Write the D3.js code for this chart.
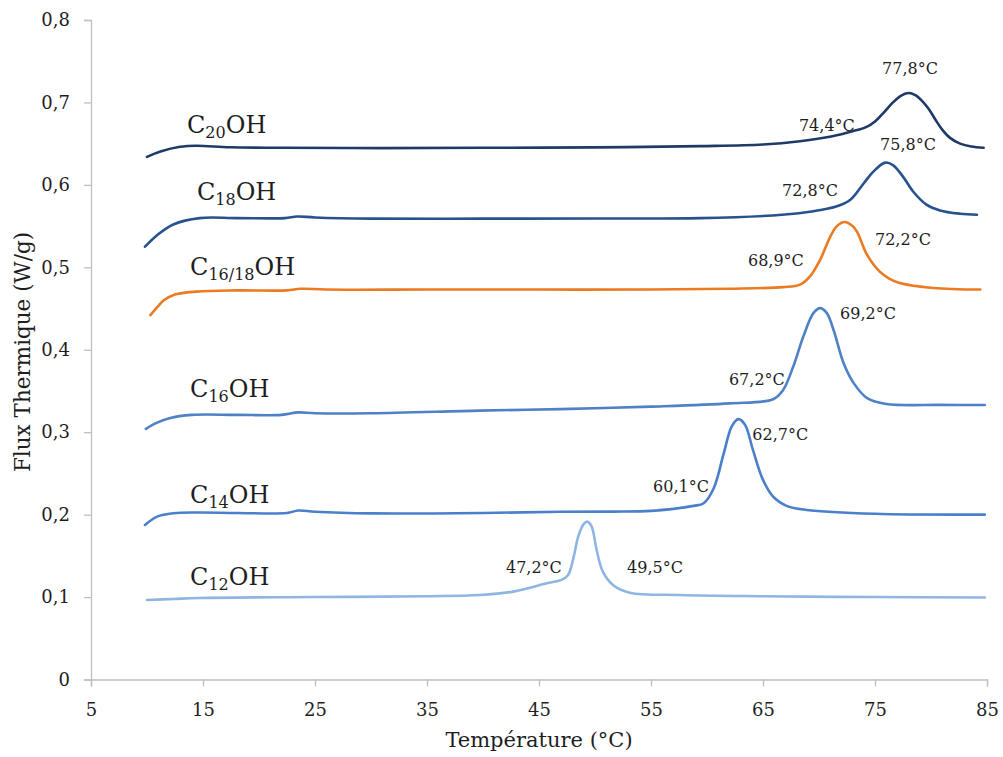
<!DOCTYPE html>
<html>
<head>
<meta charset="utf-8">
<script src="https://cdn.jsdelivr.net/npm/d3@7"></script>
<style>
  html, body { margin: 0; padding: 0; background: #ffffff; }
  svg { display: block; }
</style>
</head>
<body>
<svg id="chart" width="1003" height="757"></svg>
<script>
// ---- Data ----
const xTicks = [5, 15, 25, 35, 45, 55, 65, 75, 85];
const yTicks = [0, 0.1, 0.2, 0.3, 0.4, 0.5, 0.6, 0.7, 0.8];

const c20 = [[10.0,0.634],[11.2,0.6405],[12.95,0.6462],[14.4,0.6475],[17.4,0.6456],[22,0.645],[30.8,0.6446],[40,0.645],[50,0.6455],[59.4,0.647],[65,0.649],[68.3,0.653],[71.2,0.659],[73.0,0.665],[74.2,0.670],[75.0,0.677],[75.8,0.688],[76.6,0.700],[77.3,0.708],[77.97,0.7115],[78.6,0.709],[79.2,0.702],[79.8,0.692],[80.4,0.679],[81.0,0.667],[81.7,0.657],[82.6,0.650],[83.6,0.6465],[84.7,0.645]];
const c18 = [[9.82,0.525],[10.9,0.539],[12.35,0.552],[14.7,0.5597],[18,0.5597],[22.3,0.5597],[23.4,0.5617],[25,0.5605],[30,0.559],[40,0.559],[50,0.5592],[59.4,0.5597],[66.7,0.5637],[69.5,0.568],[71.6,0.574],[72.8,0.582],[74.0,0.602],[74.85,0.616],[75.9,0.627],[76.6,0.624],[77.5,0.610],[78.4,0.592],[79.6,0.576],[80.8,0.569],[82.6,0.565],[84.1,0.5637]];
const c1618 = [[10.3,0.442],[11.0,0.453],[11.5,0.460],[12.5,0.467],[14.4,0.4705],[18,0.472],[22.5,0.472],[23.7,0.474],[26,0.473],[35,0.473],[45,0.473],[55,0.473],[62,0.474],[66.8,0.476],[68.3,0.479],[69.2,0.489],[70.1,0.509],[71.0,0.537],[71.6,0.550],[72.3,0.555],[73.0,0.550],[73.4,0.543],[74.3,0.515],[75.4,0.495],[76.3,0.486],[77.2,0.481],[80.2,0.475],[84.4,0.473]];
const c16 = [[9.9,0.304],[10.8,0.311],[12,0.317],[14,0.321],[18,0.321],[22,0.321],[23.5,0.324],[25,0.323],[30,0.323],[39.7,0.3262],[46.9,0.328],[55,0.331],[62,0.335],[65.9,0.340],[66.8,0.3513],[67.7,0.3796],[68.6,0.416],[69.5,0.4444],[70.1,0.4505],[70.7,0.4444],[71.3,0.424],[72.2,0.3837],[73.1,0.3595],[74.3,0.3413],[76.0,0.3343],[80.8,0.3331],[84.8,0.333]];
const c14 = [[9.82,0.1875],[10.9,0.1976],[12.35,0.2017],[14.7,0.2025],[18,0.202],[22.5,0.202],[23.5,0.205],[25,0.2035],[30,0.2015],[40,0.202],[46.9,0.2035],[51.6,0.2037],[55,0.2045],[58.8,0.2106],[59.7,0.2138],[60.6,0.232],[61.5,0.2745],[62.2,0.3068],[62.8,0.3158],[63.4,0.3089],[64.1,0.2785],[65.0,0.2421],[65.9,0.2218],[67.1,0.2106],[68.9,0.2057],[75,0.201],[84.8,0.2]];
const c12 = [[10.0,0.0965],[12.35,0.0977],[14.7,0.0989],[25,0.100],[35,0.101],[39.7,0.1025],[42.7,0.1066],[45.7,0.1167],[47.0,0.1208],[47.6,0.1268],[48.1,0.149],[48.5,0.1733],[49.0,0.1887],[49.3,0.1915],[49.7,0.1854],[50.15,0.157],[50.7,0.1308],[51.6,0.1147],[53.1,0.1053],[57.6,0.1025],[65,0.101],[75,0.100],[84.8,0.0995]];

const seriesNames = ["C20OH", "C18OH", "C16/18OH", "C16OH", "C14OH", "C12OH"];
const seriesMain = ["C", "C", "C", "C", "C", "C"];
const seriesSub = ["20", "18", "16/18", "16", "14", "12"];
const seriesValues = [c20, c18, c1618, c16, c14, c12];
const seriesColors = ["#1f3a66", "#27528d", "#ec7a22", "#4f81c6", "#4a7fcb", "#8fb5e3"];
// label anchors in data coordinates (temperature, flux)
const seriesLabelPos = [[13.57,0.6632],[14.46,0.5819],[13.84,0.4909],[13.84,0.3428],[13.84,0.2142],[13.84,0.1147]];

const annotTexts = ["77,8°C","74,4°C","75,8°C","72,8°C","72,2°C","68,9°C","69,2°C","67,2°C","62,7°C","60,1°C","47,2°C","49,5°C"];
const annotPos = [[75.63,0.7348],[68.21,0.6657],[75.45,0.6426],[66.7,0.5859],[75.0,0.5273],[63.66,0.501],[71.88,0.4375],[61.96,0.3574],[64.05,0.2907],[55.18,0.2279],[42.05,0.1296],[52.86,0.1296]];

const xTitle = "Température (°C)";
const yTitle = "Flux Thermique (W/g)";

// ---- Drawing ----
const svg = d3.select("#chart");
const font = "'DejaVu Serif', serif";
const textColor = "#1e1e1e";
const axisColor = "#bfbfbf";

const x = d3.scaleLinear().domain([5, 85]).range([91, 987]);
const y = d3.scaleLinear().domain([0, 0.8]).range([679.5, 20]);

const fmt = v => v === 0 ? "0" : d3.format(".1f")(v).replace(".", ",");

const xAxis = svg.append("g")
  .attr("transform", `translate(0,${y(0)})`)
  .call(d3.axisBottom(x).tickValues(xTicks).tickSize(7).tickPadding(17).tickFormat(d3.format("d")));
const yAxis = svg.append("g")
  .attr("transform", `translate(${x(5)},0)`)
  .call(d3.axisLeft(y).tickValues(yTicks).tickSize(7).tickPadding(14).tickFormat(fmt));

[xAxis, yAxis].forEach(g => {
  g.select(".domain").attr("stroke", axisColor).attr("stroke-width", 1.3);
  g.selectAll(".tick line").attr("stroke", axisColor).attr("stroke-width", 1.3);
  g.selectAll(".tick text").attr("fill", textColor).style("font-family", font).style("font-size", "18px");
});

const line = d3.line().x(d => x(d[0])).y(d => y(d[1])).curve(d3.curveCatmullRom.alpha(0.5));

svg.append("g").selectAll("path")
  .data(seriesValues)
  .join("path")
  .attr("d", d => line(d))
  .attr("fill", "none")
  .attr("stroke", (d, i) => seriesColors[i])
  .attr("stroke-width", 2.6)
  .attr("stroke-linejoin", "round")
  .attr("stroke-linecap", "round");

// series labels
const lbl = svg.append("g").selectAll("text")
  .data(seriesNames)
  .join("text")
  .attr("x", (d, i) => x(seriesLabelPos[i][0]))
  .attr("y", (d, i) => y(seriesLabelPos[i][1]))
  .attr("fill", textColor)
  .style("font-family", font)
  .style("font-size", "24px");
lbl.append("tspan").text((d, i) => seriesMain[i]);
lbl.append("tspan").attr("dy", 5).style("font-size", "16px").text((d, i) => seriesSub[i]);
lbl.append("tspan").attr("dy", -5).text("OH");

// temperature annotations
svg.append("g").selectAll("text")
  .data(annotTexts)
  .join("text")
  .attr("x", (d, i) => x(annotPos[i][0]))
  .attr("y", (d, i) => y(annotPos[i][1]))
  .attr("fill", textColor)
  .style("font-family", font)
  .style("font-size", "16px")
  .text(d => d);

// axis titles
svg.append("text")
  .attr("x", 539).attr("y", 747)
  .attr("text-anchor", "middle")
  .attr("fill", textColor)
  .style("font-family", font).style("font-size", "21px")
  .text(xTitle);
svg.append("text")
  .attr("transform", "translate(30,352) rotate(-90)")
  .attr("text-anchor", "middle")
  .attr("fill", textColor)
  .style("font-family", font).style("font-size", "21.5px")
  .text(yTitle);
</script>
</body>
</html>
